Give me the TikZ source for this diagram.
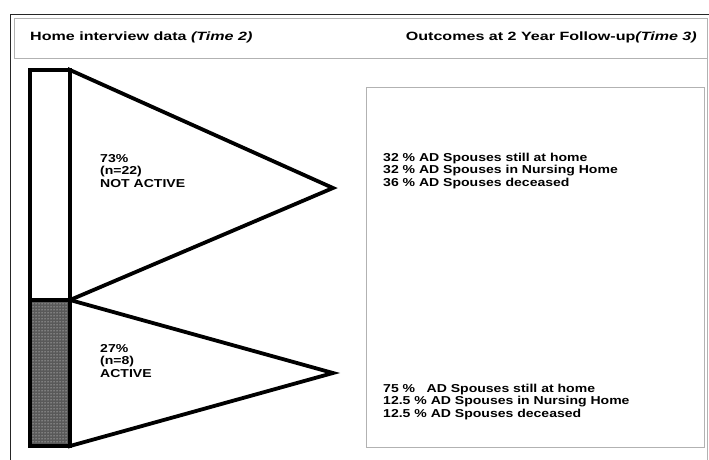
\documentclass[tikz,border=0pt]{standalone}
\usepackage{fontspec}
\setmainfont{Liberation Sans}
\newfontfamily\hdrfont[FakeStretch=1.34]{Liberation Sans}
\newfontfamily\bodyfont[FakeStretch=1.22]{Liberation Sans}
\usetikzlibrary{patterns}
\begin{document}
\begin{tikzpicture}[x=1pt,y=-1pt,
  frameline/.style={draw=black!85,line width=1pt},
  cellline/.style={draw=black!30,line width=0.8pt},
  barline/.style={draw=black,line width=4pt,line join=miter},
  trishape/.style={draw=black,line width=3.8pt,line join=miter,fill=white},
  txt/.style={font=\bodyfont\bfseries\fontsize{11.5}{12.5}\selectfont,align=left,inner sep=0pt},
  hdr/.style={font=\hdrfont\bfseries\fontsize{12}{13}\selectfont,inner sep=0pt}]
\useasboundingbox (0,0) rectangle (709,460);
% frame
\draw[frameline] (10,460) -- (10,15) -- (709,15);
\draw[cellline] (14,18) rectangle (707,58);
\draw[cellline] (707,58) -- (707,460);
\draw[cellline] (366,87) rectangle (704,447);
% header
\node[hdr,anchor=west] (hl) at (30,37) {Home interview data \textit{(Time 2)}};
\node[hdr,anchor=east] (hr) at (697,37) {Outcomes at 2 Year Follow-up\textit{(Time 3)}};
% bar
\coordinate (bt) at (70,70);
\coordinate (bm) at (70,300);
\coordinate (bb) at (70,446);
\fill[black!65] (30,300) rectangle (70,446);
\fill[pattern=dots,pattern color=white] (30,300) rectangle (70,446);
\draw[barline] (30,70) rectangle (70,446);
\draw[barline] (30,300) -- (70,300);
% triangles
\coordinate (a1) at (333,188);
\coordinate (a2) at (333,373);
\draw[trishape] (bt) -- (a1) -- (bm) -- cycle;
\draw[trishape] (bm) -- (a2) -- (bb) -- cycle;
% labels
\node[txt,anchor=west] (t1) at (100,171) {73\%\\(n=22)\\NOT ACTIVE};
\node[txt,anchor=west] (t2) at (100,361) {27\%\\(n=8)\\ACTIVE};
\node[txt,anchor=west] (o1) at (383,171) {32 \% AD Spouses still at home\\32 \% AD Spouses in Nursing Home\\36 \% AD Spouses deceased};
\node[txt,anchor=west] (o2) at (383,402) {75 \%\quad AD Spouses still at home\\12.5 \% AD Spouses in Nursing Home\\12.5 \% AD Spouses deceased};
\end{tikzpicture}
\end{document}
